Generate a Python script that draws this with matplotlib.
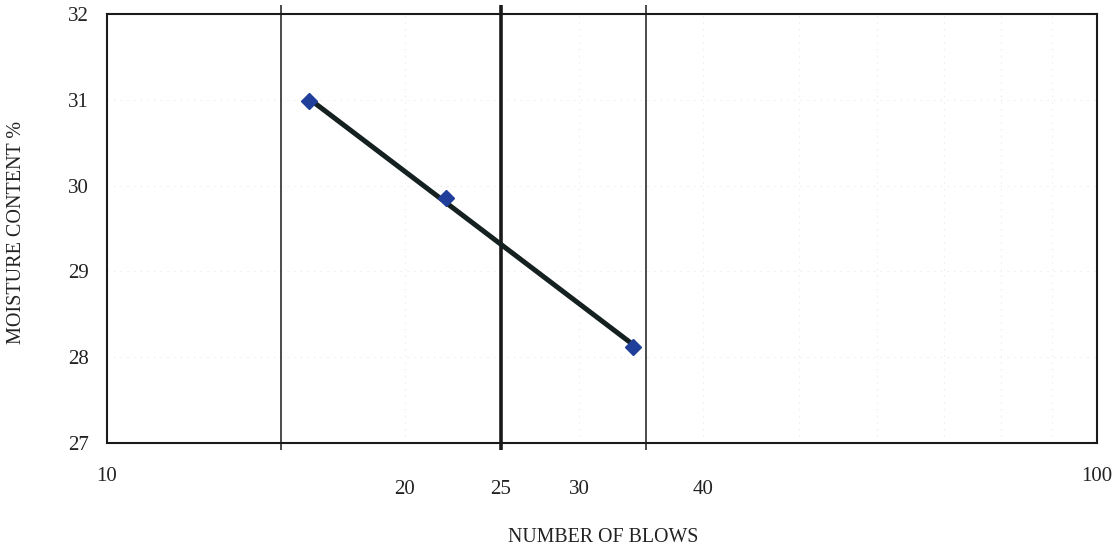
import numpy as np
import matplotlib
matplotlib.use("Agg")
import matplotlib.pyplot as plt
import matplotlib.transforms as mtransforms

# Liquid limit test: moisture content against number of blows
blows = [16, 22, 34]
moisture = [30.98, 29.86, 28.12]

ref_lines = [15, 25, 35]          # vertical guide lines, 25 blows is the liquid limit
ref_widths = [1.1, 2.6, 1.1]
grid_x = [20, 30, 40, 50, 60, 70, 80, 90]
grid_y = [28, 29, 30, 31]
y_ticks = [27, 28, 29, 30, 31, 32]
edge_labels = [10, 100]
mid_labels = [20, 25, 30, 40]

plt.rcParams['font.family'] = ['Liberation Serif', 'DejaVu Serif']

fig = plt.figure(figsize=(11.15, 5.5), dpi=100)
ax = fig.add_axes([0.0957, 0.195, 0.8882, 0.7795])
ax.set_xscale('log')
ax.set_xlim(10, 100)
ax.set_ylim(27, 32)

# faint dotted grid
for gx in grid_x:
    ax.axvline(gx, color='#e8e8e8', lw=0.8, ls=(0, (1, 5)), zorder=0)
for gy in grid_y:
    ax.axhline(gy, color='#e8e8e8', lw=0.8, ls=(0, (1, 5)), zorder=0)

# guide lines poke a little past the frame
for gx, lw in zip(ref_lines, ref_widths):
    ax.plot([gx, gx], [26.915, 32.105], color='#1a1a1a', lw=lw,
            clip_on=False, zorder=2, solid_capstyle='butt')

# trend line (linear in log of blows)
logx = np.log10(blows)
slope, intercept = np.polyfit(logx, moisture, 1)
fx = np.array([min(blows), max(blows)])
ax.plot(fx, slope * np.log10(fx) + intercept, color='#152020', lw=3.6,
        zorder=3, solid_capstyle='butt')

ax.plot(blows, moisture, ls='none', marker='D', ms=8.5, color='#1f3f9a',
        markeredgecolor='#1f3f9a', zorder=4)

for s in ax.spines.values():
    s.set_linewidth(1.5)
    s.set_color('#1a1a1a')

ax.set_xticks([])
ax.set_xticks([], minor=True)
ax.set_yticks(y_ticks)
ax.set_yticklabels([str(v) for v in y_ticks])
ax.tick_params(axis='y', length=0, pad=13, labelsize=15, colors='#222222')

trans = mtransforms.blended_transform_factory(ax.transData, ax.transAxes)
for v in edge_labels:
    ax.text(v, -0.079, str(v), transform=trans, ha='center', va='center',
            fontsize=15, color='#222222')
for v in mid_labels:
    ax.text(v, -0.110, str(v), transform=trans, ha='center', va='center',
            fontsize=15, color='#222222')

ax.text(0.501, -0.222, 'NUMBER OF BLOWS', transform=ax.transAxes,
        ha='center', va='center', fontsize=14.3, color='#222222')
fig.text(17 / 1115, 1 - 232 / 550, 'MOISTURE CONTENT %', rotation=90,
         ha='center', va='center', fontsize=14.5, color='#222222')

fig.savefig('out.png', dpi=100)
